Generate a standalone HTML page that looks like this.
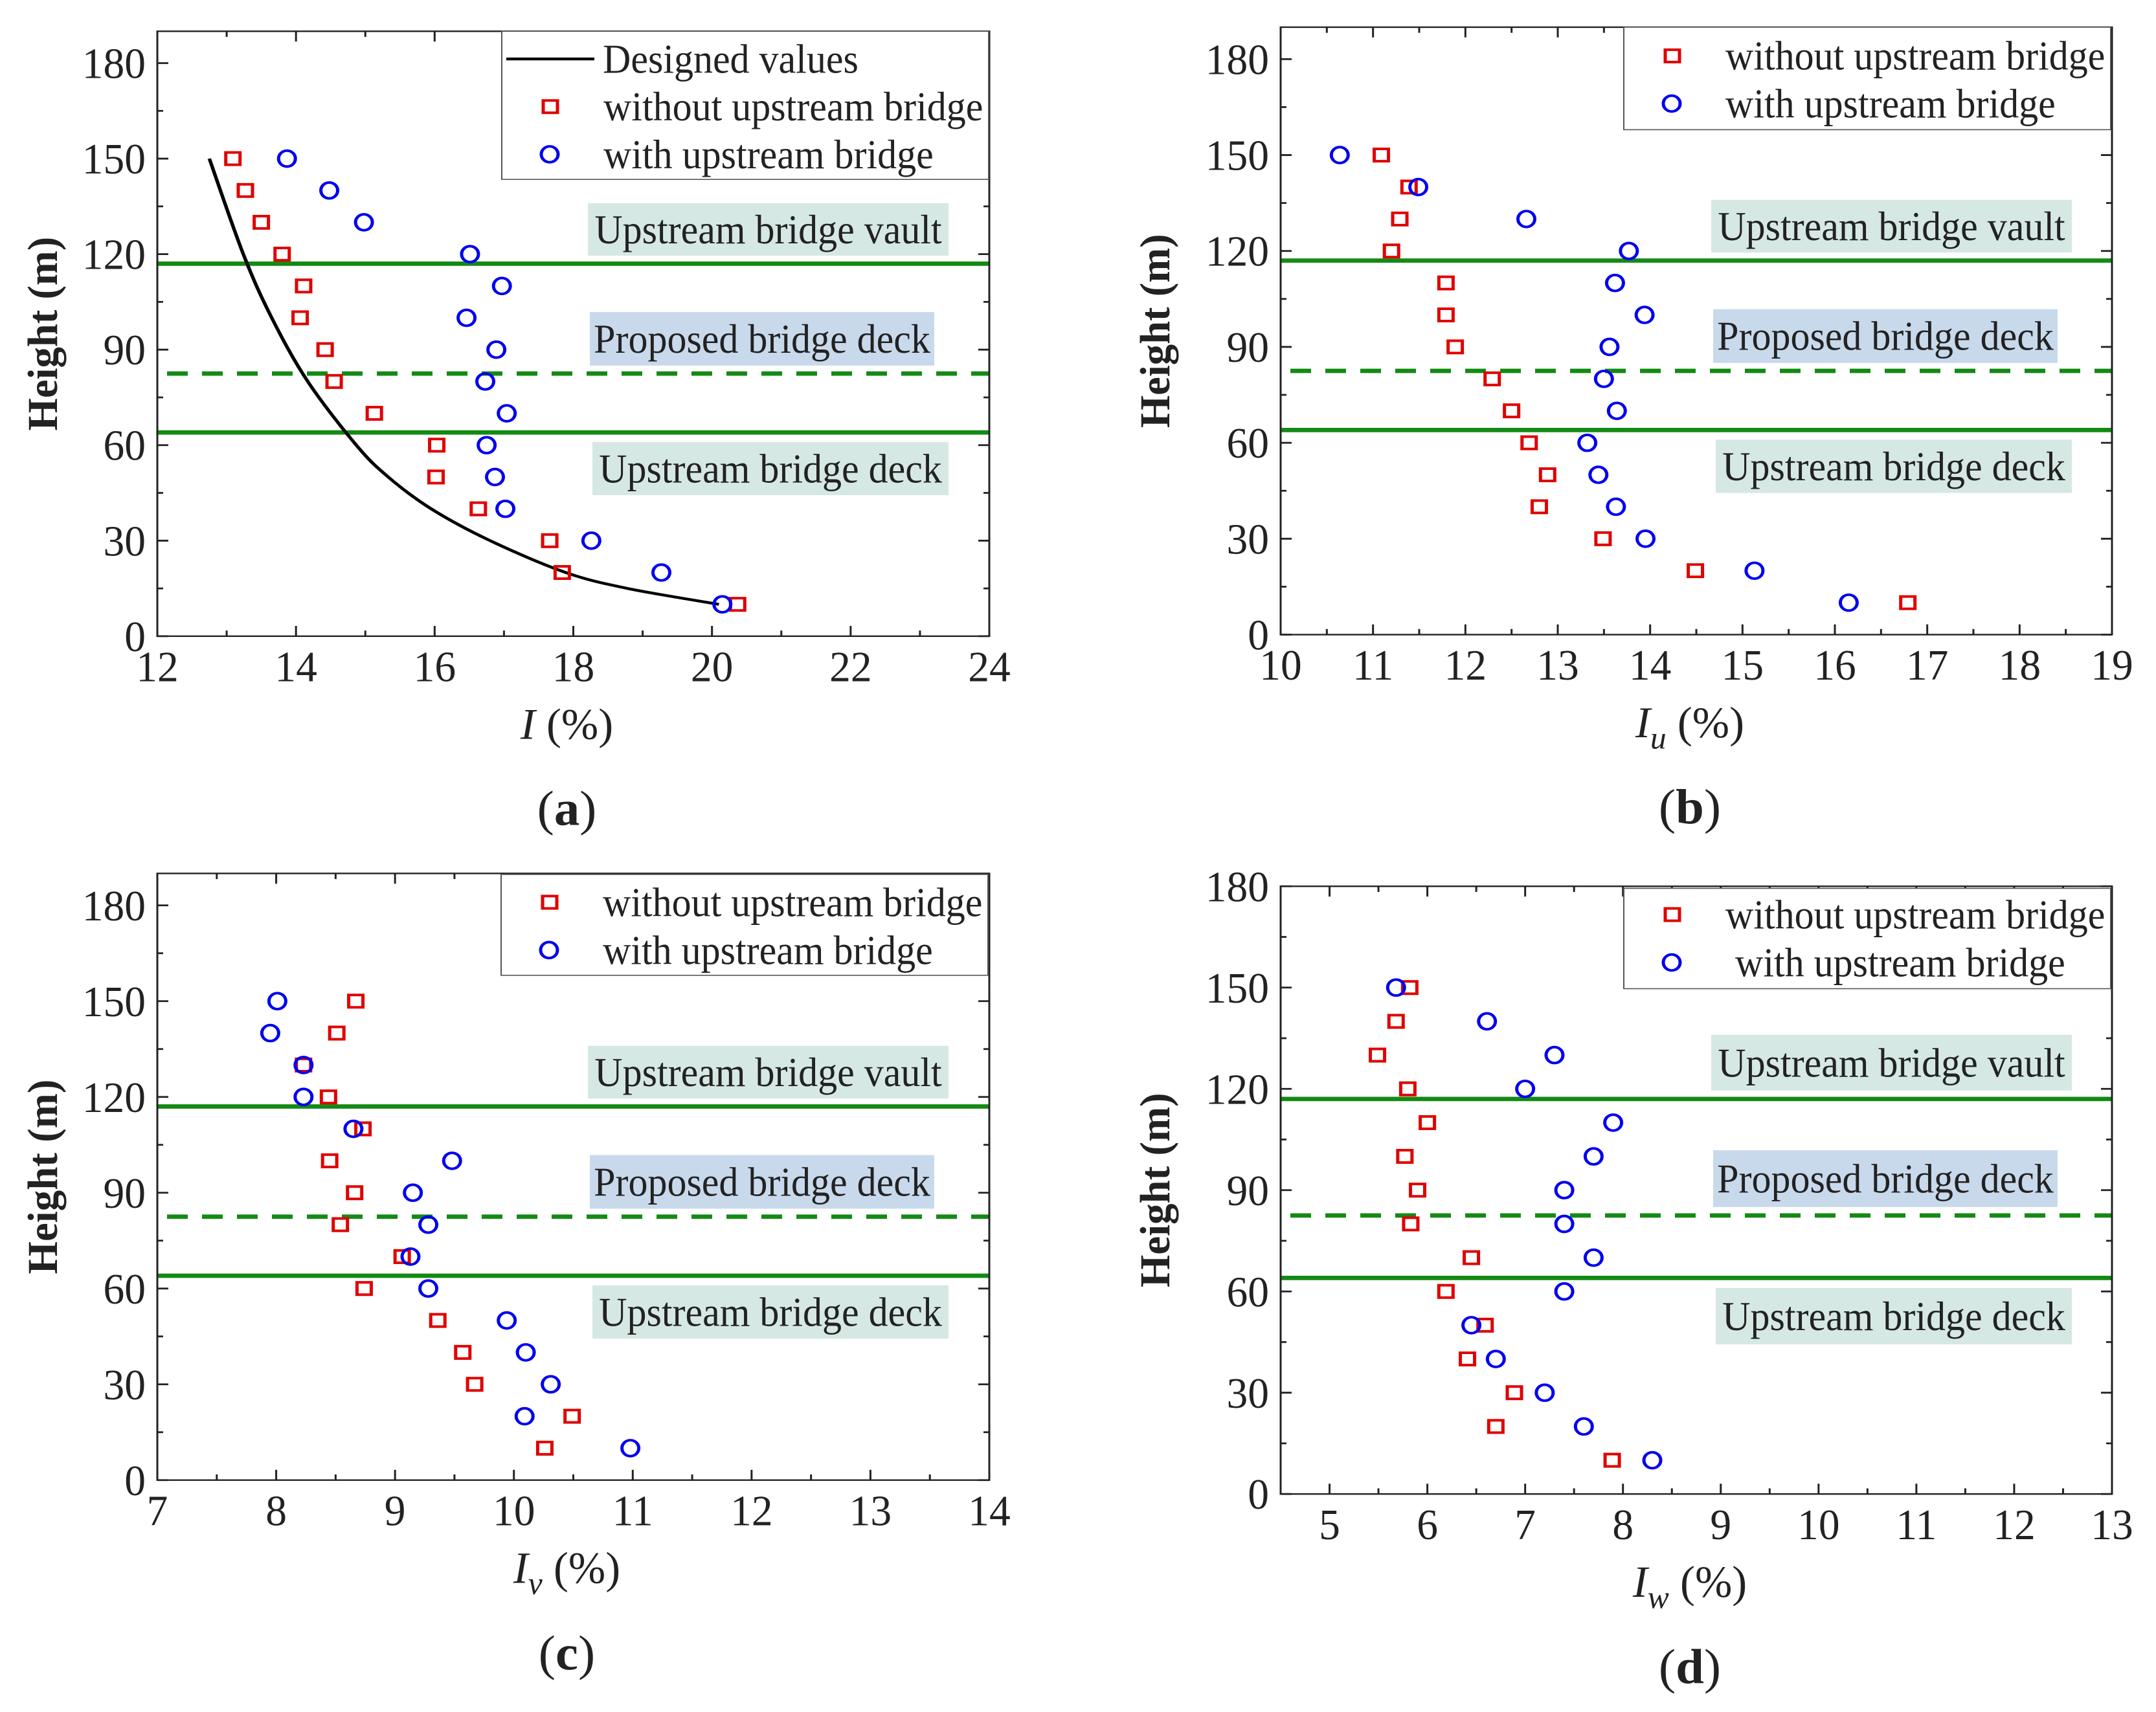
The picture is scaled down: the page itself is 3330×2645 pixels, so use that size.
<!DOCTYPE html>
<html><head><meta charset="utf-8"><style>
html,body{margin:0;padding:0;background:#fff}
svg{display:block}
text,tspan{font-family:"Liberation Serif","Times New Roman",serif}
text{fill:#222}
</style></head><body>
<svg id="fig" xmlns="http://www.w3.org/2000/svg" width="3330" height="2645" viewBox="0 0 3330 2645" font-family="Liberation Serif, serif"></svg>
<script>
const heights = [150,140,130,120,110,100,90,80,70,60,50,40,30,20,10];
const aRed  = [13.09,13.27,13.5,13.8,14.11,14.06,14.42,14.55,15.13,16.03,16.02,16.63,17.66,17.84,20.37];
const aBlue = [13.87,14.48,14.98,16.51,16.97,16.46,16.89,16.73,17.04,16.75,16.87,17.02,18.26,19.27,20.15];
const designH = [10,15,20,30,40,50,60,80,100,120,150];
const designI = [20.1,18.78,17.89,16.8,15.95,15.33,14.87,14.17,13.65,13.24,12.75];
const bRed  = [11.09,11.39,11.29,11.2,11.79,11.79,11.89,12.29,12.5,12.69,12.89,12.8,13.49,14.49,16.79];
const bBlue = [10.64,11.49,12.66,13.77,13.62,13.94,13.56,13.5,13.64,13.32,13.44,13.63,13.95,15.13,16.15];
const cRed  = [8.67,8.51,8.23,8.44,8.73,8.45,8.66,8.54,9.06,8.74,9.36,9.57,9.67,10.49,10.26];
const cBlue = [8.01,7.95,8.23,8.23,8.65,9.48,9.15,9.28,9.13,9.28,9.94,10.1,10.31,10.09,10.98];
const dRed  = [5.82,5.68,5.49,5.8,6.0,5.77,5.9,5.83,6.45,6.19,6.59,6.41,6.89,6.7,7.89];
const dBlue = [5.68,6.61,7.3,7.0,7.9,7.7,7.4,7.4,7.7,7.4,6.45,6.7,7.2,7.6,8.3];
const refLines = [117, 82.5, 64];
const yTicks = [0,30,60,90,120,150,180];

const NS="http://www.w3.org/2000/svg";
const FONT='"Liberation Serif", serif';
const svg=document.getElementById('fig');
function el(tag,attrs,parent){const e=document.createElementNS(NS,tag);for(const k in attrs)e.setAttribute(k,attrs[k]);if(tag==='text')e.setAttribute('font-family',FONT);(parent||svg).appendChild(e);return e;}
function txt(parent,x,y,str,size,anchor,sx,extra){
  const g=el('g',{transform:`translate(${x},${y}) scale(${sx||0.78},1)`},parent);
  const t=el('text',Object.assign({x:0,y:0,'font-size':size,'text-anchor':anchor||'start'},extra||{}),g);
  t.textContent=str;return t;
}
const topRow=el('g',{transform:'scale(1,0.792)'});


const botRow=el('g',{transform:'translate(0,1320) scale(1,0.795) translate(0,-1320)'});



function panel(cfg){
  const P=el('g',{},cfg.parent);
  
  
  const L=cfg.L,R=cfg.R,T=cfg.T,B=cfg.B;
  const X=v=>L+(v-cfg.x0)/(cfg.x1-cfg.x0)*(R-L);
  const Y=v=>B-(v-0)/(cfg.ymax)*(B-T);
  const boxes=[['upstream-bridge-vault-label','Upstream bridge vault',119.5,136,'#d6e8e4',665,1222],
               ['proposed-bridge-deck-label','Proposed bridge deck',85,101.8,'#c9d9ec',668,1200],
               ['upstream-bridge-deck-label','Upstream bridge deck',44.3,61,'#d6e8e4',672,1222]];
  boxes.forEach(b=>{
    const r=el('rect',{x:L+b[5],y:Y(b[3]),width:b[6]-b[5],height:Y(b[2])-Y(b[3]),fill:b[4]},P);
    
    
    const t=txt(P,L+(b[5]+b[6])/2,(Y(b[2])+Y(b[3]))/2+27,b[1],80,'middle',0.75);
    
    
  });
  refLines.forEach((v,i)=>{
    const ln=el('line',{x1:L+(i==1?15:0),x2:R,y1:Y(v),y2:Y(v),stroke:'#138a13','stroke-width':8.5,'stroke-dasharray':i==1?'32 22':'none'},P);
    
    
  });
  const fr=el('rect',{x:L,y:T,width:R-L,height:B-T,fill:'none',stroke:'#222','stroke-width':3},P);
  
  
  for(let v=0;v<=cfg.ymax;v+=15){
    const major=v%30==0,len=major?17:9;
    el('line',{x1:L,x2:L+len,y1:Y(v),y2:Y(v),stroke:'#222','stroke-width':3.5},P);
    el('line',{x1:R,x2:R-len,y1:Y(v),y2:Y(v),stroke:'#222','stroke-width':3.5},P);
  }
  yTicks.forEach(v=>{
    const t=txt(P,L-18,Y(v)+29,String(v),84,'end');
    
    
  });
  for(let v=cfg.x0;v<=cfg.x1+1e-9;v+=cfg.minor){
    const major=Math.abs((v-cfg.xs)/cfg.step-Math.round((v-cfg.xs)/cfg.step))<1e-6,len=major?20:11;
    el('line',{x1:X(v),x2:X(v),y1:B,y2:B-len,stroke:'#222','stroke-width':3},P);
    el('line',{x1:X(v),x2:X(v),y1:T,y2:T+len,stroke:'#222','stroke-width':3},P);
  }
  for(let v=cfg.xs;v<=cfg.x1+1e-9;v+=cfg.step){
    const t=txt(P,X(v),B+88,String(v),84,'middle');
    
    
  }
  const yl=el('text',{transform:`translate(${cfg.ylx},${(T+B)/2}) rotate(-90) scale(1.02,0.82)`,'font-size':80,'font-weight':'bold','text-anchor':'middle'},P);
  yl.textContent='Height (m)';
  
  
  const xl=el('text',{transform:`translate(${(L+R)/2+cfg.xlOff},${B+200}) scale(0.8,1)`,'font-size':86,'text-anchor':'middle'},P);
  
  
  const ti=el('tspan',{'font-style':'italic'},xl);ti.textContent='I';
  if(cfg.sub){const ts=el('tspan',{'font-style':'italic','font-size':62,dy:22},xl);ts.textContent=cfg.sub;
    const t2=el('tspan',{dy:-22},xl);t2.textContent=' (%)';}
  else{const t2=el('tspan',{},xl);t2.textContent=' (%)';}
  const pl=el('text',{transform:`translate(${(L+R)/2+cfg.xlOff},${B+368}) scale(0.82,1)`,'font-size':96,'text-anchor':'middle'},P);
  
  
  const p1=el('tspan',{},pl);p1.textContent='(';
  const p2=el('tspan',{'font-weight':'bold'},pl);p2.textContent=cfg.id;
  const p3=el('tspan',{},pl);p3.textContent=')';
  if(cfg.design){
    const pts=designH.map((h,i)=>[X(designI[i]),Y(h)]);
    let d=`M${pts[0][0]},${pts[0][1]}`;
    for(let i=0;i<pts.length-1;i++){
      const p0=pts[Math.max(0,i-1)],p1=pts[i],p2=pts[i+1],p3=pts[Math.min(pts.length-1,i+2)];
      const c1=[p1[0]+(p2[0]-p0[0])/6,p1[1]+(p2[1]-p0[1])/6],c2=[p2[0]-(p3[0]-p1[0])/6,p2[1]-(p3[1]-p1[1])/6];
      d+=` C${c1[0]},${c1[1]} ${c2[0]},${c2[1]} ${p2[0]},${p2[1]}`;
    }
    const c=el('path',{d:d,fill:'none',stroke:'#000','stroke-width':5.5},P);
    
    
  }
  cfg.red.forEach((v,i)=>{
    const m=el('rect',{x:X(v)-11,y:Y(heights[i])-12,width:22,height:24,fill:'none',stroke:'#e00000','stroke-width':5},P);
    
    
  });
  cfg.blue.forEach((v,i)=>{
    const m=el('ellipse',{cx:X(v),cy:Y(heights[i]),rx:13,ry:15.5,fill:'none',stroke:'#0000ee','stroke-width':5},P);
    
    
  });
  const lg=cfg.legend;
  const LG=el('g',{},P);
  
  
  el('rect',{x:lg.x,y:lg.y,width:752,height:lg.h,fill:'#fff',stroke:'#555','stroke-width':2},LG);
  let yy=lg.y+lg.first;
  if(cfg.design){
    el('line',{x1:lg.x+7,x2:lg.x+143,y1:yy,y2:yy,stroke:'#000','stroke-width':5.5},LG);
    const t=txt(LG,lg.x+156,yy+27,'Designed values',80,'start',0.75);
    
    
    yy+=93;
  }
  el('rect',{x:lg.x+64,y:yy-12,width:22,height:24,fill:'none',stroke:'#e00000','stroke-width':5},LG);
  let t=txt(LG,lg.x+157,yy+27,'without upstream bridge',80,'start',0.75);
  
  
  yy+=93;
  el('ellipse',{cx:lg.x+74,cy:yy,rx:13,ry:15.5,fill:'none',stroke:'#0000ee','stroke-width':5},LG);
  t=txt(LG,lg.x+157+(lg.off2||0),yy+27,'with upstream bridge',80,'start',0.75);
  
  
}

panel({parent:topRow,id:'a',L:243,R:1528,T:61,B:1241,x0:12,x1:24,xs:12,step:2,minor:1,ymax:190,red:aRed,blue:aBlue,design:true,sub:null,ylx:88,xlOff:-10,
  legend:{x:775,y:61,h:289,first:54}});
panel({parent:topRow,id:'b',L:1978,R:3262,T:53,B:1238,x0:10,x1:19,xs:10,step:1,minor:0.5,ymax:190,red:bRed,blue:bBlue,design:false,sub:'u',ylx:1806,xlOff:-10,
  legend:{x:2508,y:53,h:200,first:56}});
panel({parent:botRow,id:'c',L:243,R:1528,T:1357,B:2536,x0:7,x1:14,xs:7,step:1,minor:0.5,ymax:190,red:cRed,blue:cBlue,design:false,sub:'v',ylx:88,xlOff:-10,
  legend:{x:774,y:1359,h:196,first:54}});
panel({parent:botRow,id:'d',L:1978,R:3262,T:1382,B:2563,x0:4.5,x1:13,xs:5,step:1,minor:0.5,ymax:180,red:dRed,blue:dBlue,design:false,sub:'w',ylx:1806,xlOff:-10,
  legend:{x:2508,y:1386,h:195,first:51,off2:15}});
</script>
</body></html>
